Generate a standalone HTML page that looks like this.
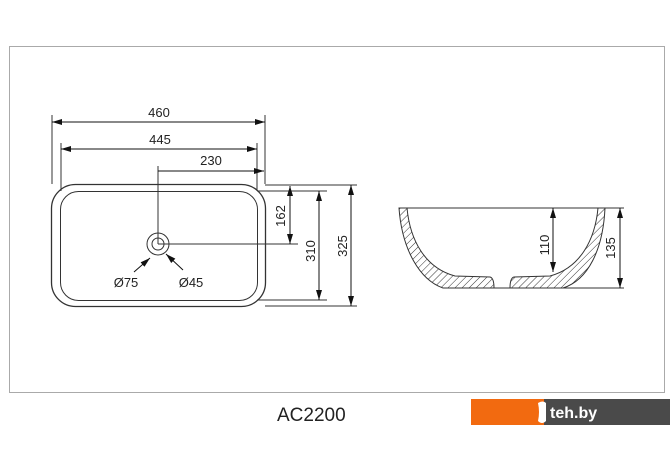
<!DOCTYPE html>
<html><head><style>
html,body{margin:0;padding:0;background:#fff;width:670px;height:471px;overflow:hidden}
svg{display:block}
text{font-family:"Liberation Sans",sans-serif;fill:#222}
</style></head><body>
<svg width="670" height="471" viewBox="0 0 670 471">
<defs>
<marker id="a" viewBox="0 0 10 6" refX="10" refY="3" markerWidth="10" markerHeight="6" orient="auto-start-reverse" markerUnits="userSpaceOnUse"><path d="M0,0L10,3L0,6z" fill="#111"/></marker>
<pattern id="h" width="5" height="5" patternUnits="userSpaceOnUse" patternTransform="rotate(45)"><line x1="0" y1="0" x2="0" y2="5" stroke="#333" stroke-width="1"/></pattern>
</defs>
<rect x="9.5" y="46.5" width="655" height="346" fill="#fff" stroke="#aaa" stroke-width="1"/>
<g stroke="#333" fill="none" stroke-width="1">
<!-- top view -->
<rect x="51.5" y="184.5" width="214" height="122" rx="24" stroke-width="1.3"/>
<rect x="60.5" y="191.5" width="197" height="109" rx="18"/>
<circle cx="158" cy="244" r="11"/>
<circle cx="158" cy="244" r="6"/>
<line x1="52" y1="115" x2="52" y2="184"/>
<line x1="265" y1="115" x2="265" y2="184"/>
<line x1="61" y1="143" x2="61" y2="191"/>
<line x1="257" y1="143" x2="257" y2="191"/>
<line x1="158" y1="166" x2="158" y2="244"/>
<line x1="158" y1="244" x2="298" y2="244"/>
<line x1="265" y1="185" x2="357" y2="185"/>
<line x1="257" y1="191" x2="327" y2="191"/>
<line x1="257" y1="300" x2="327" y2="300"/>
<line x1="265" y1="306" x2="357" y2="306"/>
<g stroke="#111" marker-start="url(#a)" marker-end="url(#a)">
<line x1="52" y1="122" x2="265" y2="122"/>
<line x1="61" y1="149" x2="257" y2="149"/>
<line x1="290" y1="186" x2="290" y2="244"/>
<line x1="319" y1="191" x2="319" y2="300"/>
<line x1="351" y1="185" x2="351" y2="306"/>
</g>
<line x1="158" y1="171" x2="264" y2="171" stroke="#111" marker-end="url(#a)"/>
<line x1="134" y1="272" x2="150" y2="258" stroke="#111" marker-end="url(#a)"/>
<line x1="183" y1="270" x2="166" y2="254" stroke="#111" marker-end="url(#a)"/>
<!-- side view -->
<path d="M399,208 L407,208 C410,240 425,268 455,276 L490,277 Q494,278 494,288 L443,288 C420,280 402,250 399,208 Z" fill="url(#h)"/>
<path d="M605,208 L598,208 C595,240 580,268 550,276 L514,277 Q510,278 510,288 L563,288 C588,280 603,250 605,208 Z" fill="url(#h)"/>
<line x1="399" y1="208" x2="624" y2="208"/>
<line x1="443" y1="288" x2="624" y2="288"/>
<g stroke="#111" marker-start="url(#a)" marker-end="url(#a)">
<line x1="553" y1="208" x2="553" y2="272"/>
<line x1="620" y1="208" x2="620" y2="288"/>
</g>
</g>
<g font-size="13">
<text x="159" y="117" text-anchor="middle">460</text>
<text x="160" y="144" text-anchor="middle">445</text>
<text x="211" y="165" text-anchor="middle">230</text>
<text x="126" y="287" text-anchor="middle">Ø75</text>
<text x="191" y="287" text-anchor="middle">Ø45</text>
<text transform="translate(285,216) rotate(-90)" text-anchor="middle">162</text>
<text transform="translate(315,251) rotate(-90)" text-anchor="middle">310</text>
<text transform="translate(347,246) rotate(-90)" text-anchor="middle">325</text>
<text transform="translate(549,245) rotate(-90)" text-anchor="middle">110</text>
<text transform="translate(615,248) rotate(-90)" text-anchor="middle">135</text>
</g>
<text x="277" y="421" font-size="19">AC2200</text>
<rect x="471" y="399" width="73" height="26" fill="#f26a10"/>
<rect x="544" y="399" width="126" height="26" fill="#4a4a4a"/>
<path d="M538,403 q5,-3 8,0 l0,18 q-4,4 -8,0 q2,-9 0,-18z" fill="#fff"/>
<text x="550" y="418" font-size="16" font-weight="bold" style="fill:#fff">teh.by</text>
</svg>
</body></html>
